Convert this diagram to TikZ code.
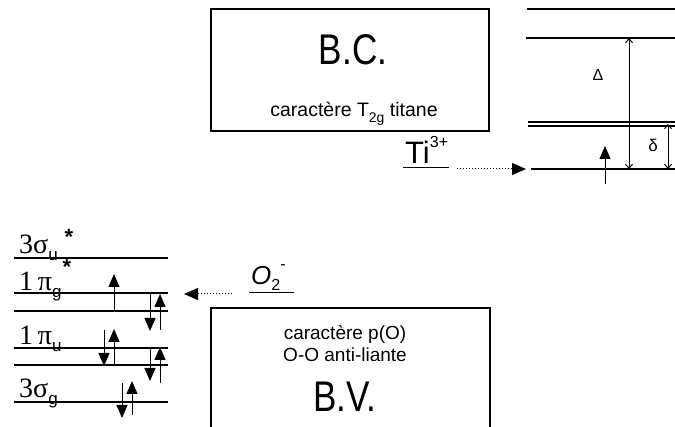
\documentclass[tikz,border=0pt]{standalone}
\usepackage{fontspec}
\setmainfont{Liberation Sans}
\newfontfamily\serifA{Liberation Serif}
\newfontfamily\sansA{Liberation Sans}
\usetikzlibrary{arrows.meta}
\begin{document}
\begin{tikzpicture}[x=1pt,y=-1pt,
  lvl/.style={line width=1.2pt},
  boxst/.style={draw,line width=1.3pt},
  spin/.style={line width=1pt,-{Triangle[length=13pt,width=11pt]}},
  gap/.style={line width=1pt,{Straight Barb[length=4pt,width=7pt]}-{Straight Barb[length=4pt,width=7pt]}},
  dots/.style={line width=1pt,dotted,-{Triangle[length=14pt,width=12pt]}},
  lab/.style={inner sep=0pt,anchor=base west},
  orb/.style={inner sep=0pt,anchor=base west,font=\serifA\fontsize{28}{28}\selectfont},
  star/.style={inner sep=0pt,font=\bfseries\fontsize{22}{22}\selectfont}
]
\newcommand{\orbsub}[1]{\raisebox{-0.22em}{\sansA\fontsize{17}{17}\selectfont #1}}
\useasboundingbox (0,0) rectangle (675,427);
% ---------- B.C. box
\draw[boxst] (211,9) rectangle (489,131);
\node (bc) at (353,50) {\scalebox{0.9}[1.1]{\fontsize{39}{39}\selectfont B.C.}};
\node (bccar) at (354,114) {\fontsize{19.5}{19.5}\selectfont caract\`ere T\raisebox{-0.3em}{\fontsize{14}{14}\selectfont 2g} titane};
% ---------- B.V. box (open at bottom)
\draw[boxst] (211,427) -- (211,308) -- (490,308) -- (490,427);
\node (bvcar1) at (345,334) {\fontsize{19}{19}\selectfont caract\`ere p(O)};
\node (bvcar2) at (345,355) {\fontsize{19}{19}\selectfont O-O anti-liante};
\node (bv) at (345,397) {\scalebox{0.9}[1.1]{\fontsize{39}{39}\selectfont B.V.}};
% ---------- Ti levels (right)
\coordinate (r1a) at (527,9);   \coordinate (r1b) at (675,9);
\coordinate (r2a) at (526,38);  \coordinate (r2b) at (675,38);
\coordinate (r3a) at (528,122); \coordinate (r3b) at (675,122);
\coordinate (r4a) at (528,126); \coordinate (r4b) at (675,126);
\coordinate (r5a) at (531,169); \coordinate (r5b) at (675,169);
\draw[lvl] (r1a) -- (r1b);
\draw[lvl] (r2a) -- (r2b);
\draw[lvl] (r3a) -- (r3b);
\draw[lvl] (r4a) -- (r4b);
\draw[lvl] (r5a) -- (r5b);
\coordinate (DeltaT) at (629,38);  \coordinate (DeltaB) at (629,169);
\draw[gap] (DeltaT) -- (DeltaB);
\node (Delta) at (598,75) {\fontsize{16}{16}\selectfont Δ};
\coordinate (deltaT) at (668,124); \coordinate (deltaB) at (668,169);
\draw[gap] (deltaT) -- (deltaB);
\node (delta) at (653,145) {\fontsize{17}{17}\selectfont δ};
\coordinate (tispA) at (605,184); \coordinate (tispB) at (605,146);
\draw[spin] (tispA) -- (tispB);
% Ti3+ label
\node[lab] (ti) at (405,164) {\fontsize{31}{31}\selectfont Ti\raisebox{0.52em}{\fontsize{16}{16}\selectfont 3+}};
\coordinate (tiu1) at (403,168); \coordinate (tiu2) at (449,168);
\draw[line width=1pt] (tiu1) -- (tiu2);
\coordinate (tiarrA) at (457,169); \coordinate (tiarrB) at (526,169);
\draw[dots] (tiarrA) -- (tiarrB);
% ---------- O2- label
\node[lab] (o2) at (251,285) {\fontsize{26}{26}\selectfont\itshape O\raisebox{-0.2em}{\upshape\fontsize{16}{16}\selectfont 2}\raisebox{0.6em}{\upshape\fontsize{16}{16}\selectfont -}};
\coordinate (o2u1) at (249,293); \coordinate (o2u2) at (294,293);
\draw[line width=1pt] (o2u1) -- (o2u2);
\coordinate (o2arrA) at (232,294); \coordinate (o2arrB) at (184,294);
\draw[dots] (o2arrA) -- (o2arrB);
% ---------- O2 levels (left)
\foreach \n/\y in {L1/258,L2/293,L3/311,L4/348,L5/365,L6/402}{
  \coordinate (\n a) at (14,\y); \coordinate (\n b) at (168,\y);
  \draw[lvl] (\n a) -- (\n b);
}
\node[orb] (s3u) at (19,254) {3σ\orbsub{u}};
\node[star] (st1) at (69,237) {*};
\node[star] (st2) at (67,267) {*};
\node[orb] (p1g) at (19,291) {1\,π\orbsub{g}};
\node[orb] (p1u) at (19,345) {1\,π\orbsub{u}};
\node[orb] (s3g) at (19,398) {3σ\orbsub{g}};
% spins
\foreach \x/\ya/\yb in {114/311/274, 160/330/294, 114/365/329, 160/383/347, 132/415/381}{
  \draw[spin] (\x,\ya) -- (\x,\yb);
}
\foreach \x/\ya/\yb in {150/293/331, 104/330/366, 150/348/381, 122/383/418}{
  \draw[spin] (\x,\ya) -- (\x,\yb);
}
\end{tikzpicture}
\end{document}
